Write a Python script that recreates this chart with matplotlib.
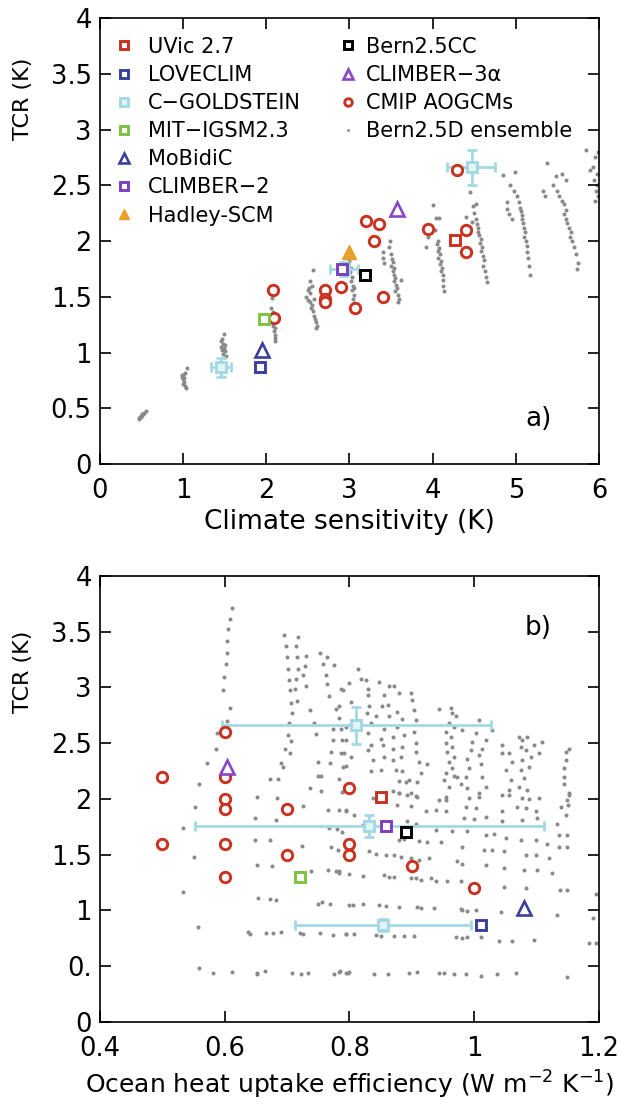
import matplotlib
matplotlib.use('Agg')
import matplotlib.pyplot as plt
from matplotlib.ticker import FixedLocator, FixedFormatter

plt.rcParams['font.family'] = ['DejaVu Sans']
plt.rcParams['mathtext.default'] = 'regular'

# ---------------- data: panel a (climate sensitivity vs TCR) ----------------
bern_a_cs = [0.47, 0.48, 0.49, 0.50, 0.51, 0.53, 0.55, 0.47, 0.49, 0.52,
             1.05, 1.02, 1.00, 0.99, 1.00, 1.01, 1.00, 1.02, 1.03, 0.99, 1.01,
             1.49, 1.47, 1.46, 1.48, 1.50, 1.46, 1.49, 1.47, 1.50, 1.48, 1.51,
             2.07, 2.06, 2.08, 2.09, 2.07, 2.08, 2.10, 2.09, 2.10, 2.11, 2.10, 2.08,
             2.56, 2.53, 2.55, 2.50, 2.52, 2.48, 2.50, 2.53, 2.55, 2.54, 2.56, 2.57, 2.58, 2.60, 2.61, 2.60, 2.51, 2.57,
             3.00, 3.02, 3.01, 3.03, 3.02, 3.04, 3.03, 3.05, 3.04, 3.06, 3.07, 3.06, 2.98, 3.05,
             3.49, 3.48, 3.40, 3.40, 3.41, 3.50, 3.51, 3.52, 3.50, 3.53, 3.52, 3.54, 3.55, 3.53, 3.56, 3.57, 3.55, 3.58, 3.60, 3.58, 3.62,
             4.01, 4.04, 4.08, 3.94, 3.96, 4.07, 4.05, 4.08, 4.06, 4.09, 4.07, 4.10, 4.09, 4.11, 4.10, 4.12, 4.13, 4.12, 4.14, 3.92, 4.03,
             4.45, 4.48, 4.52, 4.40, 4.50, 4.52, 4.53, 4.55, 4.54, 4.56, 4.58, 4.57, 4.59, 4.58, 4.60, 4.62, 4.61, 4.63, 4.64, 4.65, 4.47,
             4.99, 4.93, 4.98, 4.89, 4.90, 4.92, 5.02, 5.04, 5.05, 5.06, 5.08, 5.07, 5.09, 5.10, 5.11, 5.10, 5.12, 5.13, 5.14, 5.15, 5.16, 5.17, 4.95, 4.85,
             5.38, 5.55, 5.60, 5.33, 5.35, 5.45, 5.50, 5.52, 5.55, 5.58, 5.60, 5.58, 5.60, 5.62, 5.64, 5.66, 5.65, 5.68, 5.70, 5.72, 5.75, 5.73, 5.48,
             5.85, 5.95, 5.99, 5.93, 5.98, 5.94, 5.98, 5.96, 5.99, 5.95, 5.89]
bern_a_tcr = [0.40, 0.42, 0.43, 0.44, 0.45, 0.46, 0.48, 0.41, 0.42, 0.45,
              0.86, 0.82, 0.80, 0.78, 0.76, 0.74, 0.72, 0.70, 0.68, 0.80, 0.77,
              1.17, 1.12, 1.10, 1.08, 1.07, 1.05, 1.04, 1.02, 1.01, 0.99, 0.97,
              1.49, 1.40, 1.36, 1.30, 1.27, 1.24, 1.22, 1.19, 1.16, 1.13, 1.10, 1.33,
              1.74, 1.64, 1.60, 1.56, 1.53, 1.50, 1.47, 1.45, 1.43, 1.40, 1.37, 1.33, 1.30, 1.27, 1.24, 1.22, 1.58, 1.48,
              1.82, 1.76, 1.72, 1.68, 1.64, 1.60, 1.56, 1.52, 1.48, 1.44, 1.40, 1.36, 1.78, 1.58,
              2.00, 1.95, 1.90, 1.85, 1.80, 1.88, 1.84, 1.81, 1.78, 1.76, 1.73, 1.70, 1.67, 1.64, 1.61, 1.58, 1.55, 1.52, 1.48, 1.45, 1.65,
              2.32, 2.21, 2.21, 2.04, 2.08, 2.00, 1.97, 1.94, 1.91, 1.88, 1.85, 1.82, 1.79, 1.76, 1.73, 1.70, 1.65, 1.60, 1.55, 1.95, 2.10,
              2.44, 2.31, 2.33, 2.22, 2.25, 2.20, 2.15, 2.12, 2.08, 2.05, 2.02, 1.98, 1.95, 1.91, 1.87, 1.83, 1.78, 1.73, 1.68, 1.63, 2.17,
              2.62, 2.50, 2.45, 2.35, 2.29, 2.24, 2.40, 2.35, 2.30, 2.27, 2.23, 2.20, 2.16, 2.12, 2.08, 2.04, 2.00, 1.96, 1.90, 1.85, 1.78, 1.70, 2.20, 2.59,
              2.70, 2.60, 2.55, 2.45, 2.40, 2.50, 2.45, 2.40, 2.36, 2.33, 2.28, 2.24, 2.20, 2.16, 2.12, 2.08, 2.04, 2.00, 1.95, 1.88, 1.80, 1.75, 2.58,
              2.82, 2.75, 2.80, 2.66, 2.60, 2.55, 2.50, 2.45, 2.40, 2.36, 2.64]

cmip_a_cs = [2.09, 2.08, 2.70, 2.70, 2.70, 2.90, 3.07, 3.20, 3.36, 3.29, 3.40, 3.95, 4.40, 4.40, 4.29]
cmip_a_tcr = [1.31, 1.56, 1.56, 1.48, 1.45, 1.59, 1.40, 2.18, 2.15, 2.00, 1.50, 2.11, 2.10, 1.90, 2.64]

cg_a_cs = [1.46, 2.93, 4.47]
cg_a_tcr = [0.87, 1.75, 2.66]
cg_a_cs_lo = [0.12, 0.17, 0.30]
cg_a_cs_hi = [0.12, 0.17, 0.28]
cg_a_tcr_lo = [0.09, 0.06, 0.16]
cg_a_tcr_hi = [0.08, 0.06, 0.16]

uvic_a = (4.27, 2.01)
loveclim_a = (1.92, 0.87)
mit_a = (1.97, 1.30)
mobidic_a = (1.95, 1.02)
climber2_a = (2.91, 1.75)
hadley_a = (3.00, 1.90)
bern25cc_a = (3.19, 1.70)
climber3_a = (3.57, 2.29)

# ---------------- data: panel b (ocean heat uptake efficiency vs TCR) ----------------
bern_b_ohue = [0.612, 0.609, 0.606, 0.604, 0.604, 0.602, 0.599, 0.598, 0.609, 0.603, 0.588, 0.586, 0.571, 0.559,
               0.672, 0.685,
               0.695, 0.718, 0.699, 0.714, 0.700, 0.716, 0.730, 0.701, 0.717, 0.728, 0.703, 0.715, 0.726, 0.705, 0.712,
               0.730, 0.707, 0.716, 0.708, 0.736, 0.703, 0.743, 0.701, 0.707, 0.746, 0.697, 0.704, 0.691, 0.693,
               0.752, 0.764, 0.757, 0.776, 0.762, 0.764, 0.767, 0.787, 0.778, 0.783, 0.784, 0.773, 0.787, 0.773, 0.788,
               0.771, 0.786, 0.749, 0.768, 0.795, 0.749, 0.755, 0.784, 0.737, 0.755, 0.788,
               0.813, 0.819, 0.827, 0.829, 0.829, 0.800, 0.789, 0.803, 0.832, 0.828, 0.835, 0.829, 0.835, 0.829, 0.837,
               0.835, 0.795, 0.795, 0.792, 0.789, 0.803,
               0.847, 0.856, 0.864, 0.872, 0.852, 0.861, 0.880, 0.843, 0.864, 0.877, 0.856, 0.877, 0.885, 0.851, 0.869,
               0.888, 0.853, 0.869, 0.885, 0.856, 0.869, 0.883, 0.851, 0.875, 0.885, 0.880, 0.891, 0.896, 0.909, 0.869, 0.880,
               0.899, 0.901, 0.904, 0.907, 0.904, 0.907, 0.906, 0.912, 0.915, 0.899, 0.909, 0.925,
               0.944, 0.963, 0.965, 0.971, 0.960, 0.968, 0.955, 0.963, 0.954, 0.965, 0.957, 0.968, 0.960, 0.964, 0.955,
               0.968, 0.952, 0.960, 0.955, 0.973,
               0.981, 1.008, 1.029, 1.003, 0.997, 1.019, 0.995, 1.013, 0.989, 1.008, 0.992, 1.011, 0.987, 1.013, 1.019,
               1.008, 0.989, 0.979,
               1.045, 1.056, 1.072, 1.077, 1.085, 1.075, 1.083, 1.096, 1.109, 1.061, 1.077, 1.091, 1.051, 1.075, 1.088,
               1.059, 1.080, 1.072, 1.056, 1.085, 1.104, 1.045,
               1.147, 1.147, 1.144, 1.144, 1.144, 1.152,
               0.651, 0.684, 0.552, 0.725, 0.765, 0.784, 0.795, 0.648, 0.682, 0.533, 0.767, 0.780, 0.788, 0.648, 0.672,
               0.724, 0.771, 0.781, 0.550, 0.651, 0.676, 0.739, 0.765, 0.778, 0.784, 0.533, 0.653, 0.672, 0.683, 0.749,
               0.756, 0.768, 0.557, 0.637, 0.640, 0.666, 0.677, 0.691, 0.720, 0.725, 0.752, 0.773, 0.795, 0.559, 0.581,
               0.611, 0.651, 0.652, 0.664, 0.708, 0.723, 0.733, 0.776, 0.785, 0.797,
               0.880, 0.893, 0.906, 0.944, 0.955, 0.992, 1.008, 1.045, 1.056, 1.077, 1.088, 1.104, 1.149, 1.152, 0.837,
               0.877, 0.899, 0.923, 0.939, 0.955, 0.987, 1.003, 1.045, 1.069, 1.083, 1.099, 1.139, 1.147, 0.984, 1.000,
               1.019, 1.045, 1.077, 1.101, 1.133, 0.795, 0.808, 0.821, 0.893, 0.907,
               0.939, 0.965, 0.989, 1.019, 1.032, 1.051, 1.075, 1.099, 1.117, 1.149, 0.880, 0.888, 0.912, 0.925, 0.947,
               0.832, 0.843, 0.859, 0.872, 0.883, 0.899, 0.912, 0.928, 0.981, 1.016, 1.029, 1.048, 1.083, 1.099, 1.120,
               1.149, 0.973, 0.981, 1.019, 1.048, 1.080, 1.101, 1.125, 0.784, 0.800, 0.821, 0.856, 0.864, 0.872, 0.899,
               0.907, 0.915, 0.931, 0.939, 0.957, 0.979, 1.048, 1.083, 1.149,
               0.800, 0.805, 0.821, 0.848, 0.859, 0.880, 0.909, 0.915, 0.936, 0.979, 0.981, 0.989, 1.003, 1.043, 1.133,
               0.795, 0.808, 0.843, 0.851, 0.872, 0.888, 0.904, 0.971, 0.981, 0.989, 1.011, 1.039, 1.061, 1.096, 1.195,
               0.784, 0.795, 0.800, 0.840, 0.861, 0.896, 0.909, 0.944, 0.952, 0.968, 0.987, 1.011, 1.037, 1.067, 1.149,
               1.195, 1.190, 1.184, 1.136, 1.136, 1.138, 1.152, 1.150]
bern_b_tcr = [3.71, 3.61, 3.52, 3.42, 3.31, 3.21, 3.09, 2.98, 2.82, 2.70, 2.59, 2.45, 2.32, 2.13,
              2.18, 2.18,
              3.47, 3.45, 3.37, 3.37, 3.27, 3.27, 3.28, 3.17, 3.17, 3.19, 3.07, 3.08, 3.11, 2.98, 2.99,
              3.01, 2.86, 2.88, 2.77, 2.80, 2.68, 2.68, 2.57, 2.52, 2.58, 2.45, 2.41, 2.32, 2.29,
              3.31, 3.27, 3.21, 3.20, 3.11, 3.03, 2.92, 2.99, 2.81, 2.83, 2.73, 2.63, 2.63, 2.53, 2.53,
              2.42, 2.41, 2.33, 2.32, 2.30, 2.21, 2.21, 2.18, 2.10, 2.07, 2.06,
              3.17, 3.08, 3.07, 2.99, 2.93, 3.04, 2.98, 2.87, 2.83, 2.77, 2.68, 2.59, 2.48, 2.44, 2.35,
              2.25, 2.65, 2.53, 2.41, 2.29, 2.38,
              3.05, 2.93, 3.01, 3.01, 2.83, 2.84, 2.95, 2.74, 2.74, 2.78, 2.63, 2.65, 2.72, 2.54, 2.56,
              2.57, 2.48, 2.45, 2.47, 2.38, 2.35, 2.38, 2.26, 2.26, 2.25, 2.16, 2.15, 2.17, 2.15, 2.07, 2.05,
              2.95, 2.89, 2.80, 2.71, 2.60, 2.50, 2.42, 2.33, 2.23, 2.05, 2.02, 2.31,
              2.81, 2.82, 2.77, 2.74, 2.68, 2.65, 2.60, 2.56, 2.50, 2.47, 2.42, 2.38, 2.33, 2.28, 2.23,
              2.21, 2.17, 2.11, 2.02, 2.20,
              2.62, 2.71, 2.62, 2.59, 2.51, 2.53, 2.44, 2.45, 2.36, 2.39, 2.28, 2.31, 2.20, 2.20, 2.11,
              2.05, 2.10, 2.13,
              2.48, 2.41, 2.56, 2.53, 2.56, 2.47, 2.44, 2.48, 2.51, 2.33, 2.35, 2.38, 2.26, 2.26, 2.29,
              2.17, 2.19, 2.11, 2.08, 2.08, 2.41, 2.41,
              2.42, 2.35, 2.28, 2.20, 2.13, 2.04,
              2.02, 2.01, 1.93, 1.94, 1.90, 1.90, 1.90, 1.83, 1.81, 1.74, 1.74, 1.73, 1.70, 1.63, 1.63,
              1.58, 1.57, 1.54, 1.48, 1.41, 1.40, 1.35, 1.36, 1.35, 1.34, 1.17, 1.11, 1.10, 1.09, 1.06,
              1.08, 1.06, 0.855, 0.81, 0.79, 0.80, 0.80, 0.81, 0.80, 0.79, 0.80, 0.78, 0.79, 0.48, 0.443,
              0.45, 0.443, 0.43, 0.46, 0.443, 0.43, 0.443, 0.43, 0.46, 0.44,
              2.05, 2.04, 2.03, 1.99, 1.99, 2.01, 2.02, 2.04, 2.04, 2.01, 2.00, 2.01, 1.99, 2.05, 2.01,
              1.95, 1.94, 1.89, 1.90, 1.89, 1.93, 1.92, 1.89, 1.93, 1.92, 1.89, 1.93, 1.86, 1.83, 1.82,
              1.84, 1.80, 1.81, 1.83, 1.78, 1.89, 1.86, 1.77, 1.80, 1.78,
              1.72, 1.71, 1.71, 1.68, 1.69, 1.65, 1.63, 1.63, 1.60, 1.68, 1.63, 1.64, 1.62, 1.61, 1.61,
              1.53, 1.51, 1.50, 1.50, 1.48, 1.47, 1.45, 1.47, 1.57, 1.54, 1.54, 1.53, 1.50, 1.50, 1.47,
              1.57, 1.44, 1.42, 1.41, 1.38, 1.36, 1.36, 1.34, 1.35, 1.33, 1.31, 1.32, 1.30, 1.30, 1.29,
              1.29, 1.27, 1.29, 1.26, 1.26, 1.26, 1.21, 1.20, 1.18,
              1.05, 1.05, 1.06, 1.05, 1.04, 1.03, 1.03, 1.02, 1.02, 1.01, 1.00, 0.996, 1.00, 0.99, 0.96,
              0.79, 0.79, 0.78, 0.77, 0.77, 0.77, 0.775, 0.765, 0.75, 0.76, 0.765, 0.73, 0.73, 0.735, 0.71,
              0.45, 0.443, 0.45, 0.43, 0.43, 0.443, 0.45, 0.44, 0.443, 0.43, 0.43, 0.413, 0.43, 0.443, 0.40,
              1.15, 0.93, 0.71, 1.68, 1.57, 1.18, 2.45, 1.95]

cmip_b_ohue = [0.60, 0.50, 0.60, 0.60, 0.60, 0.80, 0.70, 0.50, 0.60, 0.80, 0.80, 0.70, 0.90, 0.60, 1.00]
cmip_b_tcr = [2.60, 2.20, 2.20, 2.00, 1.91, 2.10, 1.91, 1.60, 1.60, 1.60, 1.50, 1.50, 1.40, 1.30, 1.20]

cg_b_ohue = [0.853, 0.832, 0.811]
cg_b_tcr = [0.87, 1.76, 2.66]
cg_b_ohue_lo = [0.141, 0.280, 0.216]
cg_b_ohue_hi = [0.142, 0.280, 0.216]
cg_b_tcr_err = [0.05, 0.10, 0.165]

uvic_b = (0.850, 2.02)
loveclim_b = (1.011, 0.87)
mit_b = (0.720, 1.30)
mobidic_b = (1.080, 1.02)
climber2_b = (0.859, 1.76)
bern25cc_b = (0.890, 1.70)
climber3_b = (0.604, 2.29)

yticks = [0, 0.5, 1, 1.5, 2, 2.5, 3, 3.5, 4]
ytick_labels_a = ['0', '0.5', '1', '1.5', '2', '2.5', '3', '3.5', '4']
ytick_labels_b = ['0', '0.', '1', '1.5', '2', '2.5', '3', '3.5', '4']
xticks_a = [0, 1, 2, 3, 4, 5, 6]
xtick_labels_a = ['0', '1', '2', '3', '4', '5', '6']
xticks_b = [0.4, 0.6, 0.8, 1.0, 1.2]
xtick_labels_b = ['0.4', '0.6', '0.8', '1', '1.2']

# ---------------- style ----------------
RED = '#c8321e'
BLUE = '#3a3f9f'
CYAN = '#a3d9e4'
CYAN_FILL = '#e2f4f7'
GREEN = '#7dc242'
PURPLE = '#7b3fbf'
PURPLE3 = '#8a45c8'
ORANGE = '#e8a028'
GRAY = '#8a8a8a'
TICK_FS = 18.5
LAB_FS = 19
YLAB_FS = 16
LEG_FS = 15

fig = plt.figure(figsize=(6.21, 11.07), dpi=100)
axa = fig.add_axes([0.161, 0.5808, 0.8035, 0.4029])
axb = fig.add_axes([0.161, 0.0768, 0.8035, 0.4029])


def style(ax, xt, xl, yl):
    ax.xaxis.set_major_locator(FixedLocator(xt))
    ax.xaxis.set_major_formatter(FixedFormatter(xl))
    ax.yaxis.set_major_locator(FixedLocator(yticks))
    ax.yaxis.set_major_formatter(FixedFormatter(yl))
    ax.tick_params(direction='in', length=8, width=1.2, top=True, right=True,
                   labelsize=TICK_FS)
    ax.tick_params(axis='y', pad=6)
    ax.tick_params(axis='x', pad=10)
    for s in ax.spines.values():
        s.set_linewidth(1.2)


sq = dict(ls='none', marker='s', ms=7.5, mew=2.1, mfc='white', zorder=5)
tri = dict(ls='none', marker='^', ms=9.5, mew=1.9, mfc='white', zorder=5)
circ = dict(ls='none', marker='o', ms=7.5, mew=2.1, mfc='white', mec=RED, zorder=4)

# ---------------- panel a ----------------
ax = axa
h_bern, = ax.plot(bern_a_cs, bern_a_tcr, ls='none', marker='o', ms=2.9, color=GRAY,
                  mec='none', zorder=1, label='Bern2.5D ensemble')
ax.errorbar(cg_a_cs, cg_a_tcr, xerr=[cg_a_cs_lo, cg_a_cs_hi], yerr=[cg_a_tcr_lo, cg_a_tcr_hi],
            fmt='none', ecolor=CYAN, elinewidth=2.0, capsize=3.5, capthick=2.0, zorder=2)
h_cg, = ax.plot(cg_a_cs, cg_a_tcr, ls='none', marker='s', ms=7.5, mew=2.1, mfc=CYAN_FILL,
                mec=CYAN, zorder=3, label='C\u2212GOLDSTEIN')
h_cmip, = ax.plot(cmip_a_cs, cmip_a_tcr, label='CMIP AOGCMs', **circ)
h_uvic, = ax.plot([uvic_a[0]], [uvic_a[1]], mec=RED, label='UVic 2.7', **sq)
h_love, = ax.plot([loveclim_a[0]], [loveclim_a[1]], mec=BLUE, label='LOVECLIM', **sq)
h_mit, = ax.plot([mit_a[0]], [mit_a[1]], mec=GREEN, label='MIT\u2212IGSM2.3', **sq)
h_mob, = ax.plot([mobidic_a[0]], [mobidic_a[1]], mec=BLUE, label='MoBidiC', **tri)
h_cl2, = ax.plot([climber2_a[0]], [climber2_a[1]], mec=PURPLE, label='CLIMBER\u22122', **sq)
h_had, = ax.plot([hadley_a[0]], [hadley_a[1]], ls='none', marker='^', ms=10.5, mew=1.0,
                 mfc=ORANGE, mec=ORANGE, zorder=5, label='Hadley-SCM')
h_b25, = ax.plot([bern25cc_a[0]], [bern25cc_a[1]], mec='black', label='Bern2.5CC', **sq)
h_cl3, = ax.plot([climber3_a[0]], [climber3_a[1]], mec=PURPLE3, label='CLIMBER\u22123\u03b1', **tri)

ax.set_xlim(0, 6)
ax.set_ylim(0, 4)
style(ax, xticks_a, xtick_labels_a, ytick_labels_a)
ax.set_xlabel('Climate sensitivity (K)', fontsize=LAB_FS, va='top')
ax.set_ylabel('TCR (K)', fontsize=YLAB_FS)
ax.xaxis.set_label_coords(0.5, -0.1)
ax.yaxis.set_label_coords(-0.135, 0.82)
ax.text(0.905, 0.10, 'a)', transform=ax.transAxes, ha='right', va='center', fontsize=19)

leg_kw = dict(loc='upper left', frameon=False, fontsize=LEG_FS, markerscale=0.72,
              handlelength=1.0, labelspacing=0.39, borderpad=0, borderaxespad=0)
leg1 = ax.legend(handles=[h_uvic, h_love, h_cg, h_mit, h_mob, h_cl2, h_had],
                 bbox_to_anchor=(0.028, 0.958), handletextpad=0.65, **leg_kw)
ax.add_artist(leg1)
ax.legend(handles=[h_b25, h_cl3, h_cmip, h_bern],
          bbox_to_anchor=(0.477, 0.958), handletextpad=0.35, **leg_kw)

# ---------------- panel b ----------------
ax = axb
ax.plot(bern_b_ohue, bern_b_tcr, ls='none', marker='o', ms=2.9, color=GRAY, mec='none', zorder=1)
ax.errorbar(cg_b_ohue, cg_b_tcr, xerr=[cg_b_ohue_lo, cg_b_ohue_hi], yerr=cg_b_tcr_err,
            fmt='none', ecolor=CYAN, elinewidth=2.0, capsize=3.5, capthick=2.0, zorder=2)
ax.plot(cg_b_ohue, cg_b_tcr, ls='none', marker='s', ms=7.5, mew=2.1, mfc=CYAN_FILL, mec=CYAN, zorder=3)
ax.plot(cmip_b_ohue, cmip_b_tcr, **circ)
ax.plot([uvic_b[0]], [uvic_b[1]], mec=RED, **sq)
ax.plot([loveclim_b[0]], [loveclim_b[1]], mec=BLUE, **sq)
ax.plot([mit_b[0]], [mit_b[1]], mec=GREEN, **sq)
ax.plot([mobidic_b[0]], [mobidic_b[1]], mec=BLUE, **tri)
ax.plot([climber2_b[0]], [climber2_b[1]], mec=PURPLE, **sq)
ax.plot([bern25cc_b[0]], [bern25cc_b[1]], mec='black', **sq)
ax.plot([climber3_b[0]], [climber3_b[1]], mec=PURPLE3, **tri)

ax.set_xlim(0.4, 1.2)
ax.set_ylim(0, 4)
style(ax, xticks_b, xtick_labels_b, ytick_labels_b)
ax.set_xlabel('Ocean heat uptake efficiency (W m$^{-2}$ K$^{-1}$)', fontsize=LAB_FS - 1, va='top')
ax.set_ylabel('TCR (K)', fontsize=YLAB_FS)
ax.xaxis.set_label_coords(0.5, -0.105)
ax.yaxis.set_label_coords(-0.135, 0.785)
ax.text(0.905, 0.883, 'b)', transform=ax.transAxes, ha='right', va='center', fontsize=19)

fig.savefig('out.png', dpi=100)
